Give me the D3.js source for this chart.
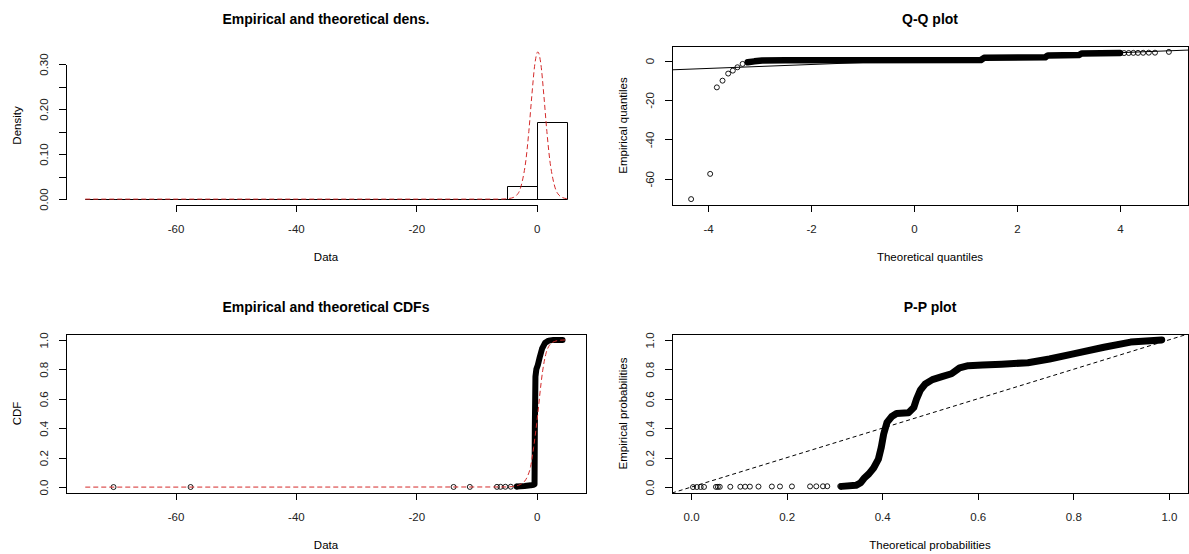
<!DOCTYPE html>
<html>
<head>
<meta charset="utf-8">
<script src="https://cdn.jsdelivr.net/npm/d3@7"></script>
<style>
  body { margin: 0; background: #fff; }
  svg { display: block; }
</style>
</head>
<body>
<svg id="chart" width="1189" height="554"></svg>
<script>
/* global d3 */

/*
** Data
*/
// Histogram (density scale), breaks every 5 units
var histBreaks  = [-75, -70, -65, -60, -55, -50, -45, -40, -35, -30, -25, -20, -15, -10, -5, 0, 5];
var histDensity = [0.0003, 0, 0, 0.0003, 0, 0, 0, 0, 0, 0, 0, 0, 0.0005, 0.0008, 0.029, 0.171];

// Fitted density (red dashed)
var densFitX = [-75, -6, -4.8, -3.8, -3.3, -2.8, -2.3, -1.8, -1.3, -0.8, -0.3, 0.2, 0.7, 1.2, 1.7, 2.2, 2.7, 3.2, 3.7, 4.2, 5];
var densFitY = [0, 0, 0.001, 0.004, 0.009, 0.02, 0.045, 0.085, 0.15, 0.23, 0.30, 0.327, 0.30, 0.23, 0.15, 0.085, 0.045, 0.02, 0.009, 0.004, 0.001];

// Empirical CDF: isolated low values and the dense part
var cdfSparseX = [-70.3, -57.5, -13.8, -11.1, -6.6, -6.0, -5.2, -4.3, -3.3];
var cdfSparseY = [0.0003, 0.0007, 0.001, 0.0013, 0.0017, 0.002, 0.0023, 0.0027, 0.003];
var cdfBandX   = [-3.3, -2, -1, -0.5, -0.35, -0.3, -0.2, -0.05, 0.2, 0.5, 0.9, 1.4, 2.0, 2.8, 4.3];
var cdfBandY   = [0.004, 0.008, 0.012, 0.016, 0.02, 0.4, 0.75, 0.8, 0.83, 0.88, 0.94, 0.98, 0.995, 1.0, 1.0];

// Fitted CDF (red dashed)
var cdfFitX = [-75, -5, -4, -3, -2, -1.5, -1, -0.5, 0, 0.2, 0.5, 1, 1.5, 2, 3, 4, 5];
var cdfFitY = [0, 0.001, 0.004, 0.013, 0.04, 0.075, 0.14, 0.27, 0.43, 0.5, 0.62, 0.79, 0.9, 0.955, 0.99, 0.998, 1];

// Q-Q plot: theoretical vs empirical quantiles
var qqOutTheo  = [-4.33, -3.96, -3.83, -3.72, -3.61, -3.52, -3.43, -3.33];
var qqOutEmp   = [-70.3, -57.5, -13.6, -10.2, -6.6, -5.1, -3.4, -1.7];
var qqBandTheo = [-3.23, -3.1, -2.95, -2.5, 1.3, 1.36, 2.55, 2.6, 3.2, 3.26, 4.0];
var qqBandEmp  = [-0.9, -0.4, 0, 0.1, 0.3, 1.4, 1.7, 2.6, 2.8, 3.6, 3.8];
var qqTailTheo = [4.08, 4.17, 4.26, 4.35, 4.45, 4.56, 4.68, 4.95];
var qqTailEmp  = [3.8, 3.85, 3.9, 3.9, 3.95, 4.0, 4.0, 4.4];

// P-P plot: theoretical vs empirical probabilities
var ppSparseTheo = [0.004, 0.012, 0.02, 0.027, 0.052, 0.056, 0.06, 0.082, 0.103, 0.113, 0.123, 0.141, 0.169, 0.186, 0.211, 0.249, 0.262, 0.276, 0.285, 0.312];
var ppSparseEmp  = [0.0003, 0.0006, 0.0009, 0.0012, 0.0015, 0.0018, 0.002, 0.0023, 0.0026, 0.003, 0.0033, 0.0036, 0.004, 0.0043, 0.0046, 0.005, 0.0053, 0.0056, 0.006, 0.0063];
var ppBandTheo = [0.315, 0.345, 0.355, 0.362, 0.372, 0.382, 0.392, 0.398, 0.403, 0.41, 0.42, 0.43, 0.455, 0.466, 0.472, 0.48, 0.49, 0.505, 0.525, 0.545, 0.562, 0.58, 0.61, 0.65, 0.705, 0.75, 0.8, 0.864, 0.92, 0.985];
var ppBandEmp  = [0.005, 0.012, 0.03, 0.06, 0.09, 0.13, 0.19, 0.27, 0.36, 0.44, 0.48, 0.5, 0.505, 0.54, 0.6, 0.66, 0.70, 0.73, 0.75, 0.77, 0.81, 0.825, 0.83, 0.835, 0.845, 0.87, 0.905, 0.95, 0.985, 1.0];

// Tick values and labels
var dataTicks     = [-60, -40, -20, 0];
var densYTicks    = [0, 0.05, 0.1, 0.15, 0.2, 0.25, 0.3];
var densYLabelled = [0, 0.1, 0.2, 0.3];
var probTicks     = [0, 0.2, 0.4, 0.6, 0.8, 1.0];
var qqXTicks      = [-4, -2, 0, 2, 4];
var qqYTicks      = [-60, -40, -20, 0];

/*
** Setup
*/
var FONT = '"Liberation Sans", Arial, Helvetica, sans-serif'
  , FIT_RED = "#d42a2a"
  , svg = d3.select("#chart")
;

// R-style axis range: data range padded by 4% each side
function padRange(lo, hi) {
    var d = (hi - lo) * 0.04;
    return [lo - d, hi + d];
} // padRange()

function intFmt(d) { return String(d); }
function oneFmt(d) { return d.toFixed(1); }

/*
** One panel: scales, axes, box, labels. Returns {g, x, y}.
*/
function drawPanel(p) {
    var g = svg.append("g")
          .attr("transform", "translate(" + p.left + "," + p.top + ")")
      , x = d3.scaleLinear().domain(p.xDomain).range([0, p.width])
      , y = d3.scaleLinear().domain(p.yDomain).range([p.height, 0])
      , xAxis = d3.axisBottom(x)
          .tickValues(p.xTicks)
          .tickSize(7)
          .tickFormat(p.xFormat)
      , yAxis = d3.axisLeft(y)
          .tickValues(p.yTicks)
          .tickSize(7)
          .tickFormat(p.yFormat)
    ;

    g.append("clipPath")
        .attr("id", "clip-" + p.id)
      .append("rect")
        .attr("width", p.width)
        .attr("height", p.height)
    ;

    // x axis: line only between first and last tick, like R
    var gx = g.append("g")
        .attr("transform", "translate(0," + p.height + ")")
        .call(xAxis)
        .attr("font-family", FONT)
        .attr("font-size", 11.5)
    ;
    gx.select(".domain").remove();
    gx.append("line")
        .attr("x1", x(p.xTicks[0]) + 0.5)
        .attr("x2", x(p.xTicks[p.xTicks.length - 1]) + 0.5)
        .attr("stroke", "#000")
        .attr("shape-rendering", "crispEdges")
    ;
    gx.selectAll(".tick line").attr("shape-rendering", "crispEdges");
    gx.selectAll(".tick text")
        .attr("y", 24)
        .attr("dy", "0.35em")
        .attr("fill", "#222")
    ;

    // y axis, labels parallel to the axis
    var gy = g.append("g")
        .call(yAxis)
        .attr("font-family", FONT)
        .attr("font-size", 11.5)
    ;
    gy.select(".domain").remove();
    gy.append("line")
        .attr("y1", y(p.yTicks[0]) + 0.5)
        .attr("y2", y(p.yTicks[p.yTicks.length - 1]) + 0.5)
        .attr("stroke", "#000")
        .attr("shape-rendering", "crispEdges")
    ;
    gy.selectAll(".tick line").attr("shape-rendering", "crispEdges");
    gy.selectAll(".tick text")
        .attr("transform", "rotate(-90)")
        .attr("x", 0)
        .attr("y", -22)
        .attr("dy", "0.35em")
        .attr("text-anchor", "middle")
        .attr("fill", "#222")
    ;

    if(p.box) {
        g.append("rect")
            .attr("x", 0.5)
            .attr("y", 0.5)
            .attr("width", p.width)
            .attr("height", p.height)
            .attr("fill", "none")
            .attr("stroke", "#000")
            .attr("shape-rendering", "crispEdges")
        ;
    }

    // Title and axis titles
    g.append("text")
        .attr("x", p.width / 2)
        .attr("y", -27)
        .attr("dy", "0.35em")
        .attr("text-anchor", "middle")
        .attr("font-family", FONT)
        .attr("font-weight", "bold")
        .attr("font-size", 14)
        .text(p.title)
    ;
    g.append("text")
        .attr("x", p.width / 2)
        .attr("y", p.height + 52)
        .attr("dy", "0.35em")
        .attr("text-anchor", "middle")
        .attr("font-family", FONT)
        .attr("font-size", 11.5)
        .text(p.xlab)
    ;
    g.append("text")
        .attr("transform", "translate(-49," + (p.height / 2) + ") rotate(-90)")
        .attr("dy", "0.35em")
        .attr("text-anchor", "middle")
        .attr("font-family", FONT)
        .attr("font-size", 11.5)
        .text(p.ylab)
    ;

    var plot = g.append("g").attr("clip-path", "url(#clip-" + p.id + ")");
    return { g: plot, x: x, y: y };
} // drawPanel()

/*
** Mark helpers
*/
function openCircles(panel, xs, ys) {
    panel.g.append("g")
      .selectAll("circle")
        .data(d3.zip(xs, ys))
      .enter().append("circle")
        .attr("cx", function(d) { return panel.x(d[0]); })
        .attr("cy", function(d) { return panel.y(d[1]); })
        .attr("r", 2.5)
        .attr("fill", "none")
        .attr("stroke", "#000")
        .attr("stroke-width", 0.9)
    ;
} // openCircles()

// Over-plotted open circles merge into a solid band
function pointBand(panel, xs, ys, w) {
    panel.g.append("path")
        .datum(d3.zip(xs, ys))
        .attr("d", d3.line()
            .x(function(d) { return panel.x(d[0]); })
            .y(function(d) { return panel.y(d[1]); }))
        .attr("fill", "none")
        .attr("stroke", "#000")
        .attr("stroke-width", w)
        .attr("stroke-linejoin", "round")
        .attr("stroke-linecap", "round")
    ;
} // pointBand()

function fitLine(panel, xs, ys, color, dash, curve) {
    panel.g.append("path")
        .datum(d3.zip(xs, ys))
        .attr("d", d3.line()
            .curve(curve || d3.curveLinear)
            .x(function(d) { return panel.x(d[0]); })
            .y(function(d) { return panel.y(d[1]); }))
        .attr("fill", "none")
        .attr("stroke", color)
        .attr("stroke-width", 1)
        .attr("stroke-dasharray", dash)
    ;
} // fitLine()

/*
** Panel 1: histogram + fitted density
*/
var dens = drawPanel({
    id: "dens", left: 66, top: 46, width: 520, height: 159, box: false
  , xDomain: padRange(histBreaks[0], histBreaks[histBreaks.length - 1])
  , yDomain: padRange(0, d3.max(densFitY.concat(histDensity)))
  , xTicks: dataTicks, xFormat: intFmt
  , yTicks: densYTicks
  , yFormat: function(d) { return densYLabelled.indexOf(d) >= 0 ? d.toFixed(2) : ""; }
  , title: "Empirical and theoretical dens.", xlab: "Data", ylab: "Density"
});

dens.g.append("g")
  .selectAll("path")
    .data(d3.zip(d3.pairs(histBreaks), histDensity))
  .enter().append("path")
    .attr("d", function(d) {
        var x0 = Math.round(dens.x(d[0][0])) + 0.5
          , x1 = Math.round(dens.x(d[0][1])) + 0.5
          , y0 = Math.round(dens.y(0)) + 0.5
          , y1 = Math.round(dens.y(d[1])) + 0.5
        ;
        return "M" + x0 + "," + y0 + "V" + y1 + "H" + x1 + "V" + y0 + "Z";
      })
    .attr("fill", "none")
    .attr("stroke", "#000")
;
fitLine(dens, densFitX, densFitY, FIT_RED, "5,3", d3.curveMonotoneX);

/*
** Panel 2: Q-Q plot
*/
var qq = drawPanel({
    id: "qq", left: 672, top: 46, width: 516, height: 159, box: true
  , xDomain: padRange(d3.min(qqOutTheo), d3.max(qqTailTheo))
  , yDomain: padRange(d3.min(qqOutEmp), d3.max(qqTailEmp))
  , xTicks: qqXTicks, xFormat: intFmt
  , yTicks: qqYTicks, yFormat: intFmt
  , title: "Q-Q plot", xlab: "Theoretical quantiles", ylab: "Empirical quantiles"
});
openCircles(qq, qqOutTheo, qqOutEmp);
pointBand(qq, qqBandTheo, qqBandEmp, 6.5);
openCircles(qq, qqTailTheo, qqTailEmp);
// y = x reference line across the whole region
fitLine(qq, qq.x.domain(), qq.x.domain(), "#000", null);

/*
** Panel 3: empirical and fitted CDFs
*/
var cdf = drawPanel({
    id: "cdf", left: 66, top: 334, width: 520, height: 159, box: true
  , xDomain: padRange(histBreaks[0], histBreaks[histBreaks.length - 1])
  , yDomain: padRange(0, 1)
  , xTicks: dataTicks, xFormat: intFmt
  , yTicks: probTicks, yFormat: oneFmt
  , title: "Empirical and theoretical CDFs", xlab: "Data", ylab: "CDF"
});
openCircles(cdf, cdfSparseX, cdfSparseY);
pointBand(cdf, cdfBandX, cdfBandY, 6);
fitLine(cdf, cdfFitX, cdfFitY, FIT_RED, "5,3", d3.curveMonotoneX);

/*
** Panel 4: P-P plot
*/
var pp = drawPanel({
    id: "pp", left: 672, top: 334, width: 516, height: 159, box: true
  , xDomain: padRange(0, 1)
  , yDomain: padRange(0, 1)
  , xTicks: probTicks, xFormat: oneFmt
  , yTicks: probTicks, yFormat: oneFmt
  , title: "P-P plot", xlab: "Theoretical probabilities", ylab: "Empirical probabilities"
});
openCircles(pp, ppSparseTheo, ppSparseEmp);
pointBand(pp, ppBandTheo, ppBandEmp, 7);
fitLine(pp, pp.x.domain(), pp.x.domain(), "#000", "4,3");
</script>
</body>
</html>
